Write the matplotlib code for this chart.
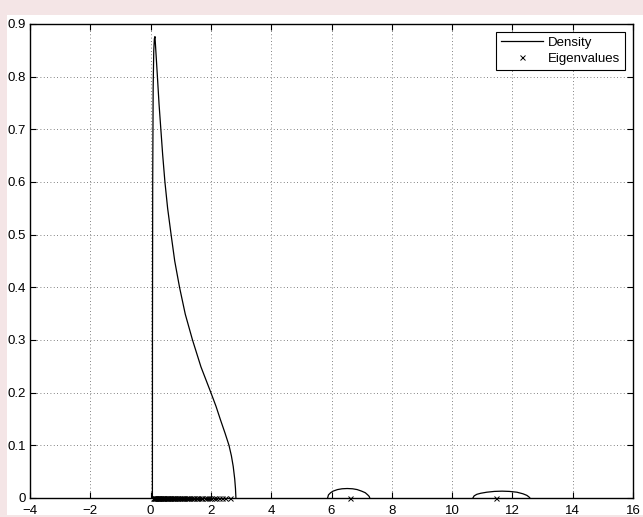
import matplotlib
matplotlib.use("Agg")
import matplotlib.pyplot as plt
from matplotlib.patches import Rectangle

# ---- data ----
density_x = [0.060, 0.062, 0.070, 0.085, 0.105, 0.125, 0.145, 0.180, 0.226, 0.280,
             0.340, 0.400, 0.475, 0.565, 0.680, 0.800, 0.960, 1.150, 1.390, 1.670,
             2.000, 2.170, 2.320, 2.470, 2.600, 2.680, 2.740, 2.790, 2.815, 2.830]
density_y = [0.000, 0.300, 0.600, 0.780, 0.850, 0.872, 0.876, 0.843, 0.800, 0.748,
             0.700, 0.652, 0.600, 0.550, 0.500, 0.450, 0.400, 0.349, 0.300, 0.249,
             0.200, 0.174, 0.148, 0.123, 0.100, 0.080, 0.060, 0.036, 0.018, 0.000]

bump1_x = [5.87, 5.90, 5.97, 6.05, 6.20, 6.35, 6.52, 6.70, 6.85, 7.00, 7.12, 7.20, 7.25, 7.27]
bump1_y = [0.0, 0.006, 0.010, 0.013, 0.016, 0.0175, 0.018, 0.0175, 0.016, 0.013, 0.010, 0.006, 0.003, 0.0]

bump2_x = [10.69, 10.73, 10.82, 10.95, 11.15, 11.40, 11.66, 11.90, 12.15, 12.35, 12.48, 12.55, 12.58]
bump2_y = [0.0, 0.004, 0.007, 0.009, 0.011, 0.0125, 0.013, 0.0125, 0.011, 0.008, 0.005, 0.002, 0.0]

eigenvalues = [0.08, 0.10, 0.12, 0.14, 0.16, 0.18, 0.20, 0.22, 0.24, 0.26, 0.28, 0.30, 0.32,
               0.35, 0.37, 0.40, 0.42, 0.45, 0.47, 0.50, 0.53, 0.55, 0.58, 0.61, 0.64, 0.67,
               0.70, 0.73, 0.76, 0.79, 0.82, 0.86, 0.89, 0.93, 0.96, 1.00, 1.04, 1.08, 1.12,
               1.16, 1.20, 1.25, 1.29, 1.34, 1.39, 1.44, 1.49, 1.55, 1.60, 1.66, 1.72, 1.79,
               1.86, 1.93, 2.01, 2.09, 2.18, 2.27, 2.37, 2.48, 2.62, 6.60, 11.45]

x_ticks = [-4, -2, 0, 2, 4, 6, 8, 10, 12, 14, 16]
x_tick_labels = ["\u22124", "\u22122", "0", "2", "4", "6", "8", "10", "12", "14", "16"]
y_ticks = [0, 0.1, 0.2, 0.3, 0.4, 0.5, 0.6, 0.7, 0.8, 0.9]
y_tick_labels = ["0", "0.1", "0.2", "0.3", "0.4", "0.5", "0.6", "0.7", "0.8", "0.9"]

plt.rcParams['font.family'] = ['Liberation Sans', 'DejaVu Sans']

fig = plt.figure(figsize=(6.43, 5.17), dpi=100, facecolor='#F4E5E6')
fig.patches.append(Rectangle((7 / 643, 2 / 517), 636 / 643, 500 / 517,
                             transform=fig.transFigure, facecolor='white',
                             edgecolor='none', zorder=-10))
ax = fig.add_axes([30 / 643, 19 / 517, 603 / 643, 474 / 517])
ax.set_zorder(5)

ax.plot(density_x, density_y, color='black', lw=0.9, label='Density')
ax.plot(bump1_x, bump1_y, color='black', lw=0.9)
ax.plot(bump2_x, bump2_y, color='black', lw=0.9)
ax.plot(eigenvalues, [0] * len(eigenvalues), linestyle='none', marker='x',
        color='black', markersize=3.6, markeredgewidth=0.7, label='Eigenvalues',
        clip_on=False, zorder=3)

ax.set_xlim(-4, 16)
ax.set_ylim(0, 0.9)
ax.set_xticks(x_ticks)
ax.set_xticklabels(x_tick_labels)
ax.set_yticks(y_ticks)
ax.set_yticklabels(y_tick_labels)
ax.tick_params(direction='in', length=4, width=0.8, top=True, right=True,
               labelsize=9.5, colors='black')
ax.tick_params(axis='x', pad=5)
ax.tick_params(axis='y', pad=3)
ax.grid(True, color='0.35', linestyle=(0, (1, 3)), linewidth=0.6)
for s in ax.spines.values():
    s.set_linewidth(1.0)
    s.set_color('black')

leg = ax.legend(loc='upper right', fontsize=9.5, frameon=True, fancybox=False,
                edgecolor='black', framealpha=1, handlelength=3.2,
                borderpad=0.35, labelspacing=0.3, handletextpad=0.4,
                borderaxespad=0.6)
leg.get_frame().set_linewidth(0.8)

fig.savefig('out.png', dpi=100, facecolor=fig.get_facecolor())
